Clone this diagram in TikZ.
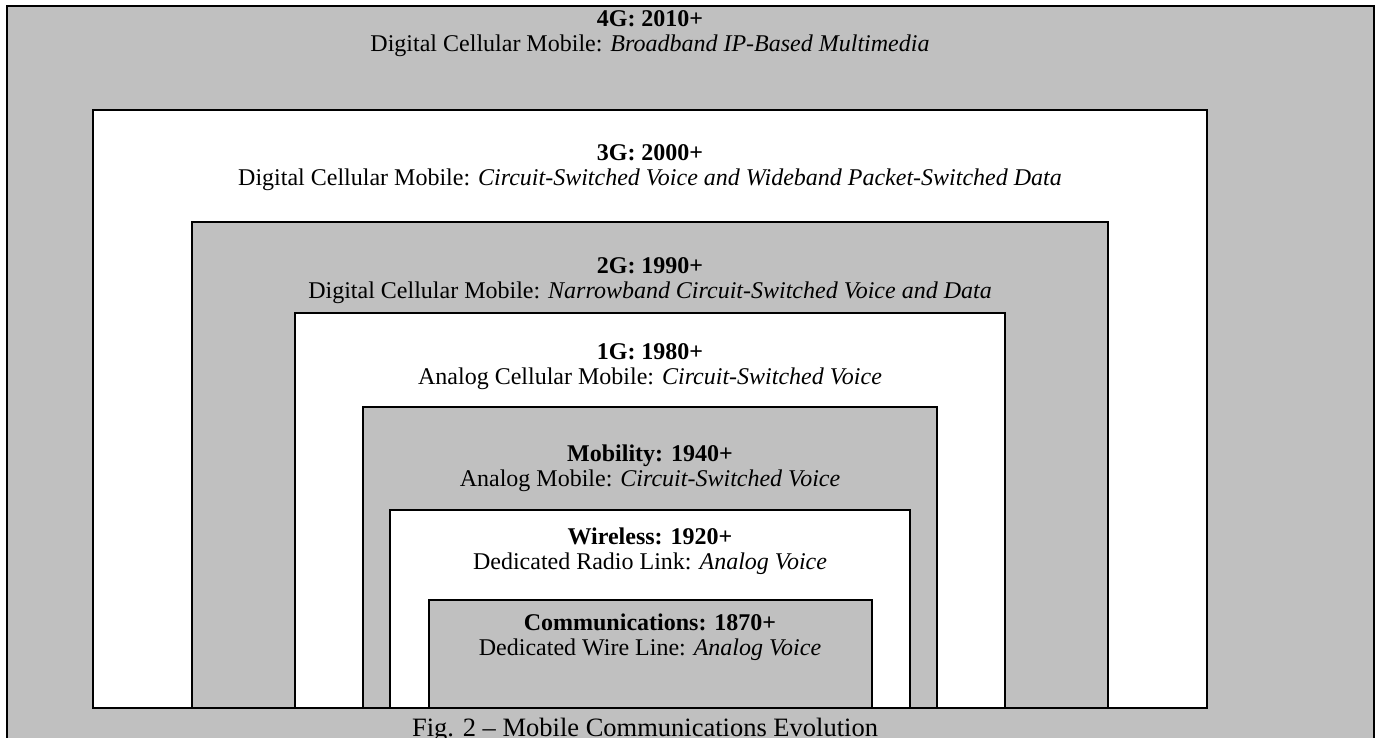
\documentclass[tikz,border=0pt]{standalone}
\usepackage{fontspec}
\setmainfont{Liberation Serif}
\begin{document}
\begin{tikzpicture}[x=1pt,y=-1pt,
  era/.style={draw=black,line width=1.2pt},
  greyera/.style={era,fill=eragrey},
  whiteera/.style={era,fill=white},
  lbl/.style={align=center,inner sep=0pt,font=\fontsize{24}{25}\selectfont},
  figcaption/.style={inner sep=0pt,anchor=base,font=\fontsize{26.5}{30}\selectfont}]
\definecolor{eragrey}{HTML}{C0C0C0}
\useasboundingbox (0,0) rectangle (1377,738);
\clip (0,0) rectangle (1377,738);
% nested generations, outermost first
\draw[greyera,line width=1.5pt] (7,6) rectangle (1374,760);
\draw[whiteera] (93,110) rectangle (1207,708);
\draw[greyera] (192,222) rectangle (1108,708);
\draw[whiteera] (295,313) rectangle (1005,708);
\draw[greyera] (363,407) rectangle (937,708);
\draw[whiteera] (390,510) rectangle (910,708);
\draw[greyera] (429,600) rectangle (872,708);
% labels
\node[lbl] (g4) at (650,34) {\textbf{4G: 2010+}\\Digital Cellular Mobile: \textit{Broadband IP-Based Multimedia}};
\node[lbl] (g3) at (650,168) {\textbf{3G: 2000+}\\Digital Cellular Mobile: \textit{Circuit-Switched Voice and Wideband Packet-Switched Data}};
\node[lbl] (g2) at (650,281) {\textbf{2G: 1990+}\\Digital Cellular Mobile: \textit{Narrowband Circuit-Switched Voice and Data}};
\node[lbl] (g1) at (650,367) {\textbf{1G: 1980+}\\Analog Cellular Mobile: \textit{Circuit-Switched Voice}};
\node[lbl] (mob) at (650,468) {\textbf{Mobility: 1940+}\\Analog Mobile: \textit{Circuit-Switched Voice}};
\node[lbl] (wls) at (650,551.5) {\textbf{Wireless: 1920+}\\Dedicated Radio Link: \textit{Analog Voice}};
\node[lbl] (com) at (650,637) {\textbf{Communications: 1870+}\\Dedicated Wire Line: \textit{Analog Voice}};
\node[figcaption] (fig) at (645,736) {Fig. 2 -- Mobile Communications Evolution};
\end{tikzpicture}
\end{document}
